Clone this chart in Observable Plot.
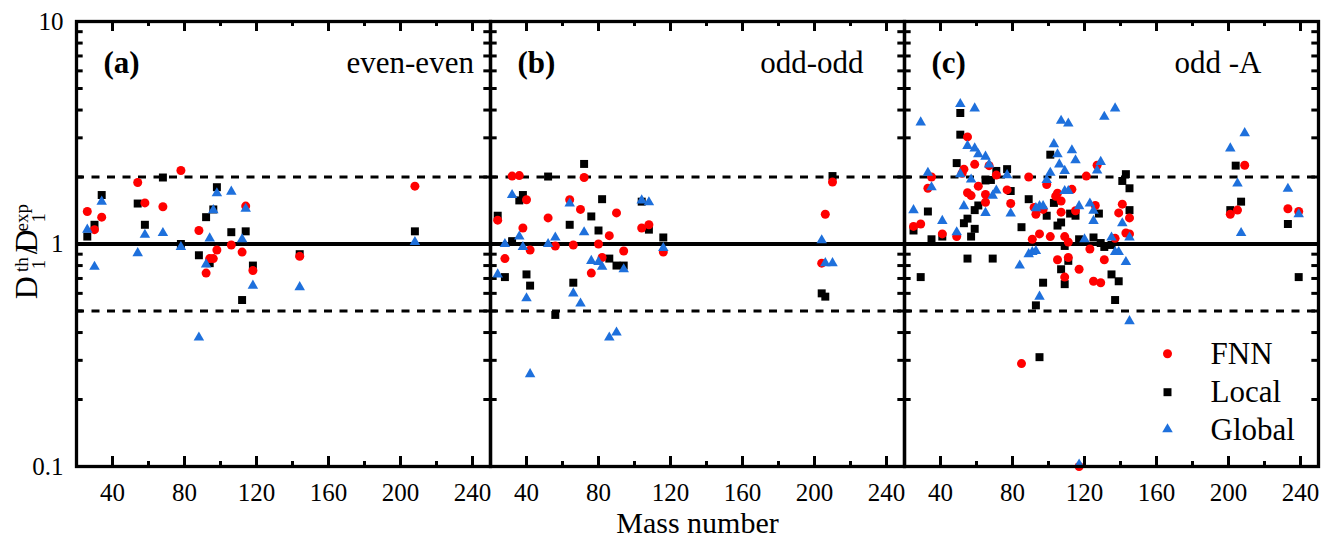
<!DOCTYPE html>
<html><head><meta charset="utf-8">
<script src="https://cdn.jsdelivr.net/npm/d3@7"></script>
<script src="https://cdn.jsdelivr.net/npm/@observablehq/plot@0.6"></script>
<style>html,body{margin:0;padding:0;background:#fff;} svg{display:block;}</style>
</head><body><script>
// ---------- data ----------
const massTicks = [40, 80, 120, 160, 200, 240];
const massMinorTicks = [60, 100, 140, 180, 220];
const ratioTicks = [0.1, 1, 10];
const ratioMinorTicks = [0.2,0.3,0.4,0.5,0.6,0.7,0.8,0.9,2,3,4,5,6,7,8,9];
const guideRatios = [0.5, 2];
const panelKeys = ["a", "b", "c"];
const panelTags = ["(a)", "(b)", "(c)"];
const panelNames = ["even-even", "odd-odd", "odd -A"];
const modelNames = ["FNN", "Local", "Global"];

// (a) even-even
const eeMass   = [26,30,34,54,58,68,78,88,92,94,96,98,106,112,114,118,144,208];
const eeFNN    = [1.40,1.16,1.32,1.89,1.53,1.47,2.14,1.15,0.74,0.86,0.86,0.94,0.99,0.92,1.48,0.76,0.88,1.82];
const eeLocal  = [1.08,1.22,1.66,1.52,1.22,1.99,1.00,0.89,1.32,0.82,1.43,1.80,1.13,0.56,1.14,0.80,0.90,1.14];
const eeGlobal = [1.16,0.79,1.55,0.91,1.10,1.12,0.97,0.38,0.81,1.06,1.42,1.69,1.72,1.05,1.44,0.65,0.64,1.02];

// (b) odd-odd  [mass, ratio]
const ooFNN = [[24,1.28],[28,0.86],[32,2.02],[36,2.03],[38,1.18],[40,1.58],[42,0.94],[52,1.31],[56,0.98],[64,1.58],[66,0.99],[70,1.43],[72,1.99],[76,0.74],[80,1.00],[82,0.87],[86,1.09],[90,1.38],[94,0.93],[104,1.18],[108,1.22],[116,0.92],[204,0.82],[206,1.36],[210,1.90]];
const ooLocal = [[24,1.34],[28,0.71],[32,1.03],[36,1.57],[38,1.66],[40,0.73],[42,0.65],[52,2.01],[56,0.48],[64,1.22],[66,0.67],[72,2.29],[76,1.33],[80,1.15],[82,1.59],[86,0.86],[90,0.80],[94,0.80],[104,1.55],[108,1.16],[116,1.07],[204,0.60],[206,0.58],[210,2.02]];
const ooGlobal = [[24,0.73],[28,1.00],[32,1.66],[36,1.08],[38,0.97],[40,0.57],[42,0.26],[52,1.00],[56,1.07],[64,1.52],[66,0.60],[70,0.54],[72,1.13],[76,0.84],[80,0.83],[82,0.79],[86,0.38],[90,0.40],[94,0.77],[104,1.57],[108,1.54],[116,0.96],[204,1.04],[206,0.82],[210,0.82]];

// (c) odd-A  [mass, ratio]
const oaFNN = [[25,1.20],[29,1.23],[33,1.78],[35,2.00],[41,1.11],[49,1.08],[52,2.08],[53,2.17],[55,3.03],[55,1.70],[57,1.65],[59,2.28],[61,1.82],[65,1.67],[65,1.54],[67,2.25],[71,2.04],[77,1.75],[79,1.52],[85,0.29],[89,2.00],[91,1.05],[92,1.46],[93,1.36],[95,1.11],[97,1.43],[99,1.85],[101,1.08],[104,1.64],[105,1.69],[105,0.85],[107,1.56],[107,1.39],[109,1.08],[109,0.71],[111,1.02],[111,0.87],[113,1.76],[115,1.41],[117,0.77],[117,0.10],[121,2.02],[123,0.95],[125,0.68],[126,1.49],[127,2.26],[129,0.67],[131,0.85],[137,1.06],[139,1.38],[141,1.51],[143,1.12],[145,1.31],[145,1.11],[201,1.36],[205,1.42],[209,2.26],[233,1.44],[239,1.40]];
const oaLocal = [[25,1.15],[29,0.71],[33,1.40],[35,1.05],[41,1.08],[49,2.31],[51,3.88],[51,3.10],[53,1.24],[55,1.30],[55,0.86],[57,1.08],[59,1.17],[59,1.42],[61,1.49],[65,1.93],[68,1.94],[69,0.86],[71,2.13],[77,2.17],[79,1.73],[85,1.19],[89,1.59],[93,0.53],[95,0.31],[97,0.67],[99,1.34],[101,2.52],[103,1.53],[105,1.21],[107,1.25],[107,0.77],[109,0.98],[109,0.66],[111,0.84],[112,1.37],[115,1.34],[117,1.05],[125,1.07],[128,1.37],[129,1.01],[131,0.97],[135,0.73],[135,0.99],[137,0.56],[139,0.68],[141,1.92],[143,2.06],[145,1.78],[145,1.42],[201,1.42],[204,2.25],[207,1.55],[233,1.23],[239,0.71]];
const oaGlobal = [[25,1.42],[29,3.52],[33,2.09],[35,1.80],[41,1.27],[49,1.13],[51,4.26],[51,2.06],[53,1.48],[55,2.76],[57,1.95],[59,4.07],[59,2.69],[61,2.53],[65,2.47],[65,1.38],[67,2.28],[69,1.65],[71,1.74],[77,2.04],[79,1.37],[84,0.80],[89,0.90],[91,0.92],[93,0.93],[93,1.45],[95,1.48],[97,1.48],[95,0.58],[99,1.94],[101,2.09],[103,2.81],[105,2.53],[106,2.28],[107,3.58],[109,2.13],[109,1.73],[111,1.73],[111,3.48],[113,2.64],[115,2.38],[117,1.48],[120,1.05],[123,1.52],[125,1.41],[125,1.27],[127,2.14],[129,2.34],[131,3.73],[135,1.07],[137,4.07],[137,0.92],[139,0.92],[141,1.24],[143,0.83],[145,1.07],[145,0.45],[117,0.102],[201,2.69],[205,1.87],[207,1.12],[209,3.15],[233,1.77],[239,1.36]];

// ---------- table ----------
const rows = [];
function addPairs(panel, model, pairs) { for (const [A, r] of pairs) rows.push({panel, model, A, r}); }
function addCols(panel, model, mass, ratios) { mass.forEach((A, i) => rows.push({panel, model, A, r: ratios[i]})); }
addCols("a", "FNN", eeMass, eeFNN);
addCols("a", "Local", eeMass, eeLocal);
addCols("a", "Global", eeMass, eeGlobal);
addPairs("b", "FNN", ooFNN); addPairs("b", "Local", ooLocal); addPairs("b", "Global", ooGlobal);
addPairs("c", "FNN", oaFNN); addPairs("c", "Local", oaLocal); addPairs("c", "Global", oaGlobal);

const panelInfo = panelKeys.map((k, i) => ({panel: k, tag: panelTags[i], name: panelNames[i]}));

// ---------- layout / style ----------
const WIDTH = 1324, HEIGHT = 536, ML = 75, MR = 6, MT = 21, MB = 70;
const FW = (WIDTH - ML - MR) / 3, FH = HEIGHT - MT - MB;
const FONT = '"Liberation Serif", "Times New Roman", serif';
const markStyle = {
  FNN:    {symbol: "circle",   r: 4.5, fill: "#ff0000"},
  Local:  {symbol: "square",   r: 4.5, fill: "#000000"},
  Global: {symbol: "triangle", r: 3.9, fill: "#1e70dc"}
};
const nameDx = [-16.6, -41, -57];
const legendRows = [{dotDy: -112.7, textDy: -102.7}, {dotDy: -74.3, textDy: -64.3}, {dotDy: -37.2, textDy: -26.5}];

const marks = [
  Plot.ruleY(guideRatios, {strokeWidth: 3.2, strokeDasharray: "8,7.5"}),
  Plot.ruleY([1], {strokeWidth: 4}),
  Plot.tickX(massTicks, {insetTop: FH - 10, strokeWidth: 3}),
  Plot.tickX(massTicks, {insetBottom: FH - 10, strokeWidth: 3}),
  Plot.tickX(massMinorTicks, {insetTop: FH - 5, strokeWidth: 3}),
  Plot.tickX(massMinorTicks, {insetBottom: FH - 5, strokeWidth: 3}),
  Plot.tickY(ratioMinorTicks, {insetRight: FW - 7, strokeWidth: 3}),
  Plot.tickY(ratioMinorTicks, {insetLeft: FW - 7, strokeWidth: 3}),
  Plot.axisX({ticks: massTicks, tickSize: 0, tickPadding: 17, fontSize: 25, label: null}),
  Plot.axisY({ticks: ratioTicks, tickFormat: d => String(d), tickSize: 0, tickPadding: 13, fontSize: 25, label: null}),
  ...["Local", "FNN", "Global"].map(m => Plot.dot(rows.filter(d => d.model === m), {
    fx: "panel", x: "A", y: "r", ...markStyle[m], stroke: "none"
  })),
  Plot.frame({strokeWidth: 3.3}),
  Plot.text(panelInfo, {fx: "panel", text: "tag", frameAnchor: "top-left", dx: 27, dy: 72 - MT,
    lineAnchor: "bottom", textAnchor: "start", fontWeight: "bold", fontSize: 31}),
  ...panelInfo.map((p, i) => Plot.text([p], {fx: "panel", text: "name", frameAnchor: "top-right",
    dx: nameDx[i], dy: 72 - MT, lineAnchor: "bottom", textAnchor: "end", fontSize: 31})),
  Plot.text([{panel: "b", t: "Mass number"}], {fx: "panel", text: "t", frameAnchor: "bottom",
    dy: 532 - (HEIGHT - MB), lineAnchor: "bottom", fontSize: 30}),
  ...modelNames.map((m, i) => Plot.dot([{panel: "c"}], {fx: "panel", frameAnchor: "bottom-right",
    dx: -151, dy: legendRows[i].dotDy, ...markStyle[m], stroke: "none"})),
  ...modelNames.map((m, i) => Plot.text([{panel: "c", t: m}], {fx: "panel", text: "t", frameAnchor: "bottom-right",
    dx: -108, dy: legendRows[i].textDy, lineAnchor: "bottom", textAnchor: "start", fontSize: 31}))
];

const chart = Plot.plot({
  width: WIDTH, height: HEIGHT,
  marginLeft: ML, marginRight: MR, marginTop: MT, marginBottom: MB,
  style: {fontSize: "25px", color: "black", background: "white", overflow: "visible"},
  fx: {domain: panelKeys, padding: 0, axis: null, label: null},
  x: {domain: [20, 250], label: null},
  y: {type: "log", domain: [0.1, 10], label: null},
  marks
});
document.body.append(chart);

// ---------- y-axis title with stacked sub/superscripts ----------
(function () {
  const svg = d3.select(chart);
  const g = svg.append("g").attr("transform", "translate(37,239) rotate(-90)").attr("fill", "black");
  const pieces = [
    [{t: "D", size: 32, base: 0}],
    [{t: "th", size: 19, base: -9}, {t: "1", size: 19, base: 8}],
    [{t: "/", size: 32, base: 0}],
    [{t: "D", size: 32, base: 0}],
    [{t: "exp", size: 19, base: -9}, {t: "1", size: 19, base: 8}]
  ];
  let x = 0;
  const nodes = [];
  for (const group of pieces) {
    let w = 0;
    for (const p of group) {
      const el = g.append("text").attr("x", x).attr("y", p.base).attr("font-size", p.size)
        .style("font-family", FONT).text(p.t);
      w = Math.max(w, el.node().getComputedTextLength());
      nodes.push(el);
    }
    x += w;
  }
  const shift = -x / 2;
  for (const el of nodes) el.attr("x", +el.attr("x") + shift);
})();

// force the serif family on every text of the chart
d3.select(chart).selectAll("text").style("font-family", FONT);
</script></body></html>
